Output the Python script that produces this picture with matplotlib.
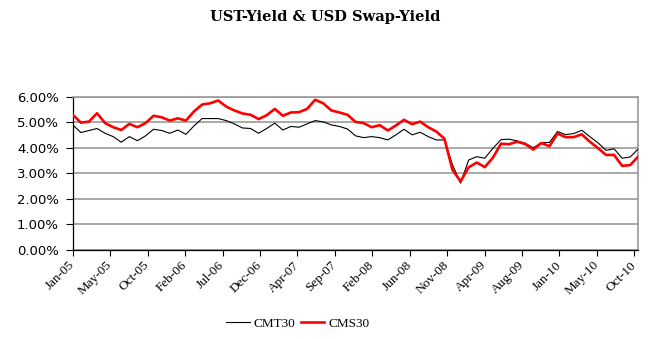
import numpy as np
import matplotlib
matplotlib.use("Agg")
import matplotlib.pyplot as plt
from matplotlib.ticker import FuncFormatter

# monthly yields in percent, Jan-05 onwards
cmt30 = [4.90, 4.60, 4.68, 4.76, 4.57, 4.44, 4.22, 4.44, 4.28, 4.47,
         4.73, 4.68, 4.57, 4.70, 4.53, 4.86, 5.15, 5.15, 5.15, 5.07,
         4.94, 4.78, 4.76, 4.57, 4.76, 4.97, 4.70, 4.84, 4.81, 4.94,
         5.07, 5.02, 4.90, 4.84, 4.74, 4.47, 4.40, 4.44, 4.40, 4.31,
         4.51, 4.73, 4.51, 4.61, 4.44, 4.31, 4.31, 3.33, 2.61, 3.52,
         3.65, 3.59, 3.98, 4.32, 4.34, 4.27, 4.18, 4.00, 4.20, 4.21,
         4.64, 4.52, 4.56, 4.69, 4.44, 4.20, 3.90, 3.96, 3.59, 3.64,
         3.96]
cms30 = [5.30, 4.99, 5.03, 5.36, 4.97, 4.81, 4.70, 4.94, 4.81, 4.97,
         5.26, 5.20, 5.07, 5.16, 5.07, 5.43, 5.70, 5.75, 5.86, 5.62,
         5.47, 5.35, 5.30, 5.13, 5.28, 5.53, 5.26, 5.39, 5.40, 5.53,
         5.89, 5.75, 5.47, 5.39, 5.30, 5.02, 4.97, 4.81, 4.89, 4.68,
         4.88, 5.10, 4.93, 5.03, 4.81, 4.64, 4.36, 3.13, 2.68, 3.23,
         3.42, 3.24, 3.61, 4.16, 4.14, 4.24, 4.15, 3.93, 4.19, 4.06,
         4.56, 4.42, 4.42, 4.53, 4.24, 3.99, 3.72, 3.72, 3.29, 3.32,
         3.66]
tick_labels = ["Jan-05", "May-05", "Oct-05", "Feb-06", "Jul-06", "Dec-06",
               "Apr-07", "Sep-07", "Feb-08", "Jun-08", "Nov-08", "Apr-09",
               "Aug-09", "Jan-10", "May-10", "Oct-10"]

x = np.arange(len(cmt30))
cmt = np.array(cmt30) / 100
cms = np.array(cms30) / 100

fig = plt.figure(figsize=(6.5, 3.39), dpi=100)
ax = fig.add_axes([0.112, 0.264, 0.870, 0.450])

ax.plot(x, cmt, color="black", lw=0.8, label="CMT30", zorder=3)
ax.plot(x, cms, color="#ff0000", lw=1.9, label="CMS30", zorder=3)

ax.set_xlim(0, len(x) - 1)
ax.set_ylim(0, 0.06)
ax.set_yticks(np.arange(0, 0.0601, 0.01))
ax.yaxis.set_major_formatter(FuncFormatter(lambda v, p: f"{v*100:.2f}%"))
ax.grid(axis="y", color="#999999", lw=1.2)
ax.set_axisbelow(True)

ax.set_xticks(np.arange(len(tick_labels)) * 4.634)
ax.set_xticklabels(tick_labels, rotation=45, ha="right", va="center",
                   rotation_mode="anchor", family="Liberation Serif", fontsize=9.5)
ax.tick_params(axis="x", direction="out", length=4, width=0.8, pad=6)
ax.tick_params(axis="y", direction="out", length=5, width=0.8, pad=5, labelsize=9.5)

for s in ["top", "right"]:
    ax.spines[s].set_color("#999999")
    ax.spines[s].set_linewidth(1.2)
ax.spines["left"].set_linewidth(0.9)
ax.spines["bottom"].set_linewidth(0.9)

fig.text(0.5, 0.95, "UST-Yield & USD Swap-Yield", ha="center", va="center",
         family="DejaVu Serif", weight="bold", fontsize=10.5)

fig.legend(loc="center", bbox_to_anchor=(0.458, 0.045), ncol=2, frameon=False,
           prop={"family": "Liberation Serif", "size": 9.5},
           handlelength=1.8, handletextpad=0.3, columnspacing=0.4)

fig.savefig("out.png", dpi=100)
